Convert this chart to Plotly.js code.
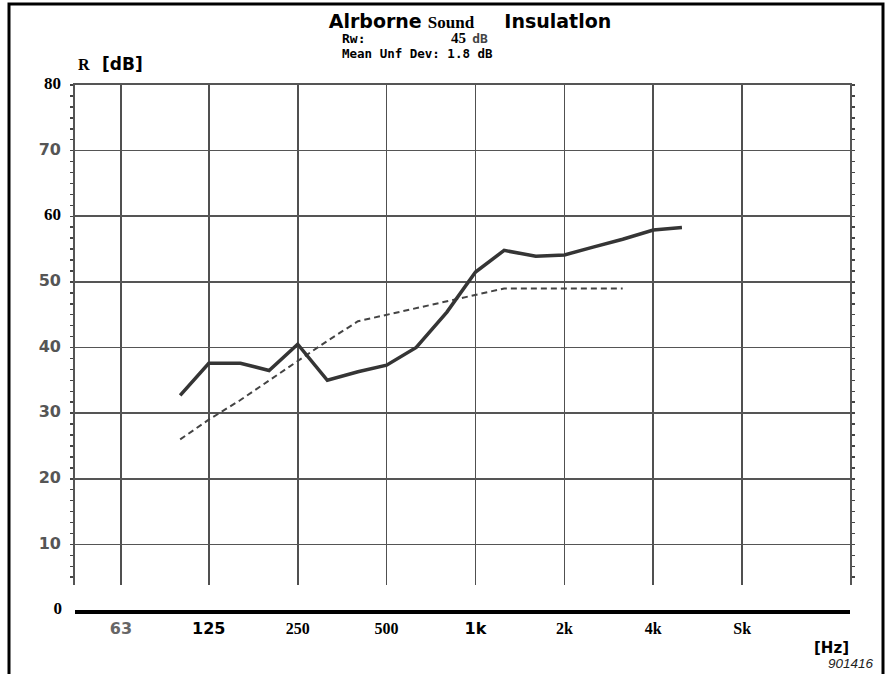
<!DOCTYPE html>
<html>
<head>
<meta charset="utf-8">
<script src="https://cdn.plot.ly/plotly-3.0.1.min.js"></script>
<style>
  html, body { margin: 0; padding: 0; background: #fff; }
  #chart { width: 889px; height: 674px; }
</style>
</head>
<body>
<div id="chart"></div>
<script>
// ---- data ----
const freqs = [100, 125, 160, 200, 250, 315, 400, 500, 630, 800, 1000, 1250, 1600, 2000, 2500, 3150, 4000, 5000];
const measuredR = [32.7, 37.6, 37.6, 36.5, 40.5, 35.0, 36.3, 37.3, 40.0, 45.4, 51.5, 54.8, 53.9, 54.1, 55.3, 56.5, 57.9, 58.3];
const refFreqs = [100, 125, 160, 200, 250, 315, 400, 500, 630, 800, 1000, 1250, 1600, 2000, 2500, 3150];
const refCurve = [26, 29, 32, 35, 38, 41, 44, 45, 46, 47, 48, 49, 49, 49, 49, 49];

const octaveTicks = [63, 125, 250, 500, 1000, 2000, 4000, 8000];
const octaveLabels = ['63', '125', '250', '500', '1k', '2k', '4k', 'Sk'];
const yTicks = [10, 20, 30, 40, 50, 60, 70, 80];
const yLabels = ['10', '20', '30', '40', '50', '60', '70', '80'];

const rwValue = '45';
const meanUnfDev = '1.8';

// ---- styling helpers ----
const SERIF = 'Liberation Serif';
const SANS = 'DejaVu Sans';
const MONO = 'DejaVu Sans Mono';
function serifB(t, size) { return '<span style="font-family:' + SERIF + ';font-weight:bold;font-size:' + size + 'px;color:#000">' + t + '</span>'; }
function sansB(t, size, color) { return '<span style="font-family:' + SANS + ';font-weight:bold;font-size:' + size + 'px;color:' + color + '">' + t + '</span>'; }

const serifY = { '80': 1, '60': 1 };
const yText = yLabels.map(t => serifY[t] ? serifB(t, 17) : sansB(t, 16, '#555'));
const xStyle = ['sansgray', 'sans', 'serif', 'serif', 'sans', 'serif', 'serif', 'serif'];
const xText = octaveLabels.map((t, i) => {
  if (xStyle[i] === 'sansgray') return sansB(t, 16, '#666');
  if (xStyle[i] === 'sans') return sansB(t, 16, '#000');
  return serifB(t, 16);
});

const xRange = [1.6439, 4.268];
const pxPerDb = 6.5625;
const yLow = 80 - 500 / pxPerDb;
const tickZoneTop = 14 / pxPerDb;
const tickMarkLevel = 6.5 / pxPerDb;   // centre of the short octave ticks above the 0 line

const traces = [
  {
    x: refFreqs, y: refCurve, type: 'scatter', mode: 'lines',
    xaxis: 'x', yaxis: 'y',
    line: { color: '#444', width: 2, dash: '6px,4px' },
    hoverinfo: 'skip', showlegend: false
  },
  {
    x: freqs, y: measuredR, type: 'scatter', mode: 'lines',
    xaxis: 'x', yaxis: 'y',
    line: { color: '#353535', width: 3.5 },
    hoverinfo: 'skip', showlegend: false
  },
  {
    // short octave ticks standing on the 0 line
    x: octaveTicks, y: octaveTicks.map(() => tickMarkLevel), type: 'scatter', mode: 'markers',
    marker: { symbol: 'line-ns-open', size: 13, line: { color: '#111', width: 1.6 } },
    xaxis: 'x', yaxis: 'y', cliponaxis: false, hoverinfo: 'skip', showlegend: false
  },
  {
    // invisible anchor trace on the bottom frequency strip (x2/y2)
    x: octaveTicks, y: octaveTicks.map(() => 0), type: 'scatter', mode: 'markers',
    marker: { size: 1, opacity: 0 },
    xaxis: 'x2', yaxis: 'y2', hoverinfo: 'skip', showlegend: false
  }
];

function px2paperX(px) { return (px - 75) / 775; }
function px2paperY(py) { return (610 - py) / 525; }

const layout = {
  width: 889, height: 674,
  margin: { l: 75, r: 39, t: 85, b: 64 },
  paper_bgcolor: '#fff', plot_bgcolor: 'rgba(0,0,0,0)',
  showlegend: false,
  title: {
    text: '<span style="font-family:' + SANS + ';font-weight:bold">Alrborne</span> ' +
          '<span style="font-family:' + SERIF + ';font-weight:bold;font-size:17px">Sound</span>' +
          '&nbsp;&nbsp;&nbsp;&nbsp;&nbsp;' +
          '<span style="font-family:' + SANS + ';font-weight:bold">Insulatlon</span>',
    font: { family: SANS, size: 19, color: '#000' },
    x: 470 / 889, xref: 'container', xanchor: 'center',
    y: 1 - 21 / 674, yref: 'container', yanchor: 'middle'
  },
  xaxis: {
    type: 'log', range: xRange, anchor: 'y', side: 'top',
    tickvals: octaveTicks, showticklabels: false, ticks: '',
    showgrid: true, gridcolor: '#505050', gridwidth: 1.7,
    showline: true, linecolor: '#555', linewidth: 1.7,
    zeroline: false, fixedrange: true
  },
  yaxis: {
    domain: [25 / 525, 1], range: [yLow, 80], anchor: 'x',
    tickvals: yTicks, ticktext: yText,
    ticks: 'outside', ticklen: 3, tickwidth: 1.5, tickcolor: '#444',
    minor: { dtick: 10 / 6, tick0: 0, ticks: 'outside', ticklen: 3, tickwidth: 1.5, tickcolor: '#444', showgrid: false },
    showgrid: true, gridcolor: '#555', gridwidth: 1.7,
    showline: true, linecolor: '#555', linewidth: 1.7, mirror: 'all',
    zeroline: false, ticklabelstandoff: 7, fixedrange: true
  },
  xaxis2: {
    type: 'log', range: xRange, anchor: 'y2', side: 'bottom',
    tickvals: octaveTicks, ticktext: xText, ticks: '',
    showgrid: false,
    showline: true, linecolor: '#000', linewidth: 3.5,
    zeroline: false, ticklabelstandoff: 6, fixedrange: true
  },
  yaxis2: {
    domain: [0, 14 / 525], range: [0, tickZoneTop], anchor: 'x2',
    tickvals: [0], ticktext: [serifB('0', 17)],
    ticks: '', showgrid: false, showline: false, zeroline: false,
    ticklabelstandoff: 12, fixedrange: true
  },
  shapes: [
    { type: 'rect', xref: 'paper', yref: 'paper',
      x0: px2paperX(9), x1: px2paperX(883), y0: px2paperY(700), y1: px2paperY(4),
      line: { color: '#000', width: 3 }, fillcolor: 'rgba(0,0,0,0)', layer: 'below' }
  ],
  annotations: [
    { xref: 'paper', yref: 'paper', x: px2paperX(76), y: px2paperY(64), xanchor: 'left', yanchor: 'middle',
      showarrow: false,
      text: serifB('R', 16) + '&nbsp;&nbsp;&nbsp;&nbsp;' + sansB('[dB]', 17, '#000') },
    { xref: 'paper', yref: 'paper', x: px2paperX(340), y: px2paperY(39), xanchor: 'left', yanchor: 'middle',
      showarrow: false, text: 'Rw:', font: { family: MONO, size: 13, color: '#000', weight: 'bold' } },
    { xref: 'paper', yref: 'paper', x: px2paperX(490), y: px2paperY(39), xanchor: 'right', yanchor: 'middle',
      showarrow: false, text: serifB(rwValue, 15) + '&nbsp;&nbsp;' + '<span style="font-family:' + MONO + ';font-weight:bold;font-size:13px">dB</span>' },
    { xref: 'paper', yref: 'paper', x: px2paperX(340), y: px2paperY(53), xanchor: 'left', yanchor: 'middle',
      showarrow: false, text: 'Mean Unf Dev: ' + meanUnfDev + ' dB', font: { family: MONO, size: 12.5, color: '#000', weight: 'bold' } },
    { xref: 'paper', yref: 'paper', x: px2paperX(851), y: px2paperY(648), xanchor: 'right', yanchor: 'middle',
      showarrow: false, text: '[Hz]', font: { family: SANS, size: 15, color: '#000', weight: 'bold' } },
    { xref: 'paper', yref: 'paper', x: px2paperX(826), y: px2paperY(663), xanchor: 'left', yanchor: 'middle',
      showarrow: false, text: '<i>901416</i>', font: { family: 'Liberation Sans', size: 13.5, color: '#222' } }
  ]
};

Plotly.newPlot('chart', traces, layout, { displayModeBar: false, staticPlot: true });
</script>
</body>
</html>
